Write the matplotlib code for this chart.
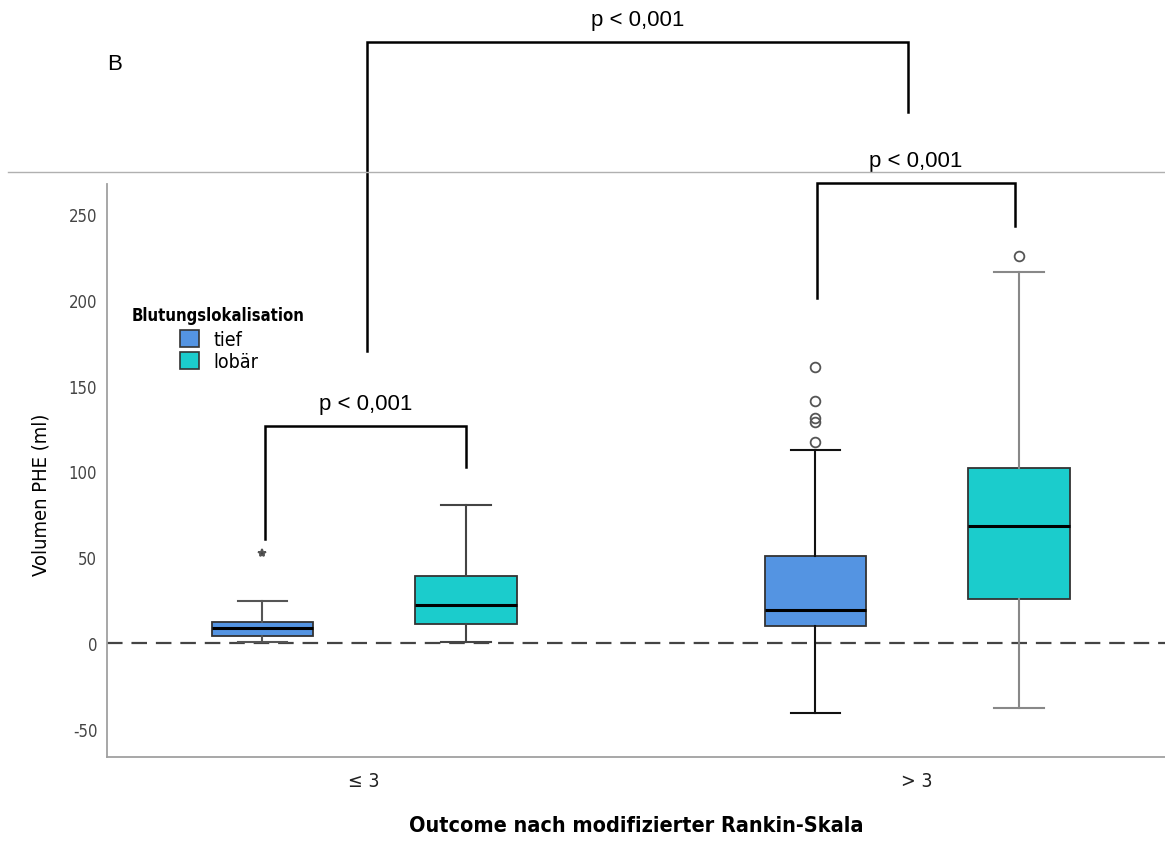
import matplotlib.pyplot as plt
from matplotlib.patches import Patch
from matplotlib.lines import Line2D

# values
groups = ["≤ 3", "> 3"]
locations = ["tief", "lobär"]
colors = ["#5494e2", "#1bcccc"]

# order: (≤3, tief), (≤3, lobär), (>3, tief), (>3, lobär)
q1 = [3.9, 11.1, 9.7, 25.6]
med = [8.7, 22.3, 19.2, 68.0]
q3 = [12.4, 39.2, 50.5, 102.0]
whislo = [0.8, 0.8, -40.8, -37.9]
whishi = [24.7, 80.4, 112.5, 216.4]
fliers = [[52.5], [], [117.0, 129.0, 131.0, 140.9, 160.7], [225.7]]

pval = "p < 0,001"

plt.rcParams["font.family"] = ["DejaVu Sans"]
plt.rcParams["font.stretch"] = "condensed"
plt.rcParams["axes.unicode_minus"] = False

fig = plt.figure(figsize=(11.65, 8.54), dpi=100)
ax = fig.add_axes([107 / 1165, 1 - 758 / 854, 1 - 107 / 1165, (758 - 185) / 854])

offset = 0.184
positions = []
for g in range(len(groups)):
    positions += [g - offset, g + offset]

stats = []
for i in range(4):
    stats.append(dict(med=med[i], q1=q1[i], q3=q3[i], whislo=whislo[i],
                      whishi=whishi[i], fliers=fliers[i]))

wcol = ["#555555", "#444444", "#111111", "#888888"]
bp = ax.bxp(stats, positions=positions, widths=0.183, capwidths=0.09,
            patch_artist=True, showfliers=True,
            medianprops=dict(color="black", lw=2.2),
            flierprops=dict(marker="o", markersize=7, markerfacecolor="none",
                            markeredgecolor="#555555", markeredgewidth=1.3))
for i, box in enumerate(bp["boxes"]):
    box.set_facecolor(colors[i % 2])
    box.set_edgecolor("#333333")
    box.set_linewidth(1.3)
for i in range(4):
    for ln in bp["whiskers"][2 * i:2 * i + 2] + bp["caps"][2 * i:2 * i + 2]:
        ln.set_color(wcol[i])
        ln.set_linewidth(1.5)
# extreme value drawn as a star
bp["fliers"][0].set_marker("*")
bp["fliers"][0].set_markerfacecolor("#444444")
bp["fliers"][0].set_markersize(6)

ax.axhline(0, color="#444444", lw=1.6, dashes=(7, 4), zorder=0.5)

ax.set_xlim(-0.465, 1.448)
ax.set_ylim(-66.4, 267.5)
ax.set_yticks([-50, 0, 50, 100, 150, 200, 250])
ax.set_xticks([0, 1])
ax.set_xticklabels(groups)
ax.tick_params(axis="y", length=0, pad=7, labelsize=12, labelcolor="#444444")
ax.tick_params(axis="x", length=0, pad=10, labelsize=14, labelcolor="#222222")
for s in ["top", "right"]:
    ax.spines[s].set_visible(False)
for s in ["left", "bottom"]:
    ax.spines[s].set_color("#a0a0a0")
    ax.spines[s].set_linewidth(1.3)

ax.set_xlabel("Outcome nach modifizierter Rankin-Skala", fontsize=15.5,
              fontweight="bold", labelpad=18)
fig.text(41 / 1165, 1 - 495 / 854, "Volumen PHE (ml)", rotation=90,
         ha="center", va="center", fontsize=14.5)

# significance brackets: (x_left, x_right, y_left, y_top, y_right)
brackets = [
    (-0.179, 0.184, 60.6, 126.5, 102.6),
    (0.819, 1.177, 201.0, 268.0, 243.0),
    (0.005, 0.984, 170.0, 350.0, 309.6),
]
for xl, xr, yl, yt, yr in brackets:
    ax.plot([xl, xl, xr, xr], [yl, yt, yt, yr], color="black", lw=1.8,
            clip_on=False, solid_joinstyle="miter")
    ax.text((xl + xr) / 2, yt + 7, pval, ha="center", va="bottom",
            fontsize=16, family=["Liberation Sans", "DejaVu Sans"],
            stretch="normal", clip_on=False)

fig.add_artist(Line2D([8 / 1165, 1], [1 - 173 / 854] * 2, color="#b0b0b0", lw=1.0))
fig.text(107 / 1165, 1 - 65 / 854, "B", fontsize=16, va="center",
         family=["Liberation Sans", "DejaVu Sans"], stretch="normal")

fig.text(132 / 1165, 1 - 316 / 854, "Blutungslokalisation", fontsize=12,
         fontweight="bold", va="center")
handles = [Patch(facecolor=c, edgecolor="#333333", lw=1.2) for c in colors]
ax.legend(handles, locations, loc="upper left", frameon=False,
          bbox_to_anchor=(180 / 1165, 1 - 331 / 854), bbox_transform=fig.transFigure,
          fontsize=14, handlelength=1.0, handleheight=0.95, handletextpad=0.7,
          labelspacing=0.15, borderpad=0, borderaxespad=0)

fig.savefig("out.png", dpi=100)
